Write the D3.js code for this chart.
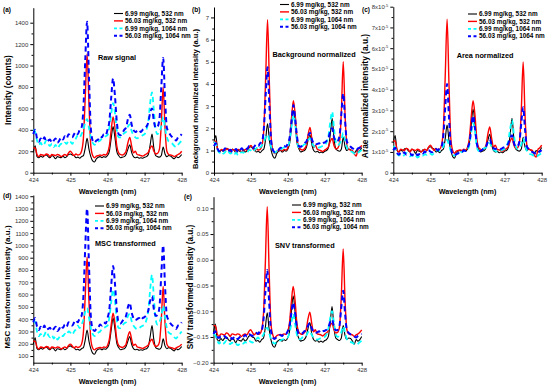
<!DOCTYPE html>
<html>
<head>
<meta charset="utf-8">
<script src="https://cdn.jsdelivr.net/npm/d3@7"></script>
<style>
  body { margin: 0; background: #fff; }
  svg { font-family: "Liberation Sans", Arial, sans-serif; }
</style>
</head>
<body>
<svg id="chart" width="550" height="387"></svg>
<script>
// wavelength grid (nm)
const wavelength = [424.00,424.05,424.10,424.15,424.20,424.25,424.30,424.35,424.40,424.45,
  424.50,424.55,424.60,424.65,424.70,424.75,424.80,424.85,424.90,424.95,
  425.00,425.05,425.10,425.15,425.20,425.25,425.30,425.35,425.40,425.45,
  425.50,425.55,425.60,425.65,425.70,425.75,425.80,425.85,425.90,425.95,
  426.00,426.05,426.10,426.15,426.20,426.25,426.30,426.35,426.40,426.45,
  426.50,426.55,426.60,426.65,426.70,426.75,426.80,426.85,426.90,426.95,
  427.00,427.05,427.10,427.15,427.20,427.25,427.30,427.35,427.40,427.45,
  427.50,427.55,427.60,427.65,427.70,427.75,427.80,427.85,427.90,427.95,428.00];

const seriesNames = ["6.99 mg/kg, 532 nm", "56.03 mg/kg, 532 nm", "6.99 mg/kg, 1064 nm", "56.03 mg/kg, 1064 nm"];

// (a) raw signal, counts
const raw699_532 = [190,250,150,140,155,145,160,165,150,140,160,150,130,150,145,140,155,140,150,170,175,165,160,140,145,135,150,160,230,320,220,150,110,100,130,145,150,140,150,145,160,200,320,430,330,200,160,140,145,150,170,220,260,190,150,140,145,135,140,135,145,150,170,260,360,230,160,150,145,160,240,175,150,160,155,140,130,150,140,150,170];
const raw5603_532 = [230,230,170,150,170,165,160,175,170,150,170,165,160,170,165,150,160,170,160,185,200,180,160,175,165,170,200,320,700,1110,650,250,160,140,155,160,165,160,170,165,185,250,400,520,420,250,185,170,165,175,200,280,330,250,185,200,170,165,160,155,165,175,190,230,250,200,175,180,220,450,800,420,200,170,165,160,150,160,170,180,200];
const raw699_1064 = [400,380,300,260,280,250,270,300,270,250,270,240,260,230,250,270,260,280,270,300,290,270,300,320,350,330,360,400,470,500,420,330,280,260,280,290,300,320,330,340,350,420,550,650,560,400,330,330,350,370,380,430,450,390,350,330,320,330,340,350,360,400,480,650,750,580,400,360,380,430,520,420,330,290,280,270,250,240,260,280,300];
const raw5603_1064 = [360,400,320,290,320,300,330,290,300,310,280,300,320,280,300,330,310,340,320,360,340,330,360,380,360,400,420,600,1050,1410,900,420,300,280,300,310,340,330,360,350,400,480,700,880,720,480,360,350,370,400,420,500,540,450,400,380,390,400,380,400,410,430,470,560,600,480,420,430,500,800,1070,700,420,380,350,330,320,300,330,340,360];

// (b) background normalized
const bg699_532 = [1.35,1.67,1.00,0.93,1.03,0.97,1.07,1.10,1.00,0.93,1.07,1.00,0.87,1.00,0.97,0.93,1.03,0.93,1.00,1.13,1.17,1.10,1.07,0.93,0.97,0.90,1.00,1.07,1.53,2.20,1.47,1.00,0.73,0.65,0.87,0.97,1.00,0.93,1.00,0.97,1.07,1.33,2.10,2.80,2.20,1.33,1.07,0.93,0.97,1.00,1.13,1.47,1.70,1.27,1.00,0.93,0.97,0.90,0.93,0.90,0.97,1.00,1.13,1.73,2.45,1.53,1.07,1.00,0.97,1.07,1.60,1.17,1.00,1.07,1.03,0.93,0.87,1.00,0.93,1.00,1.13];
const bg5603_532 = [1.42,1.42,1.05,0.93,1.05,1.02,0.99,1.08,1.05,0.93,1.05,1.02,0.99,1.05,1.02,0.93,0.99,1.05,0.99,1.14,1.23,1.11,0.99,1.08,1.02,1.05,1.23,1.98,4.32,6.90,4.01,1.54,0.99,0.86,0.96,0.99,1.02,0.99,1.05,1.02,1.14,1.54,2.47,3.25,2.59,1.54,1.14,1.05,1.02,1.08,1.23,1.73,2.04,1.54,1.14,1.23,1.05,1.02,0.99,0.96,1.02,1.08,1.17,1.42,1.54,1.23,1.08,1.11,1.36,2.78,5.00,2.59,1.23,1.05,1.02,0.99,0.85,0.75,1.05,1.11,1.23];
const bg699_1064 = [1.38,1.31,1.03,0.90,0.97,0.86,0.93,1.03,0.93,0.86,0.93,0.83,0.90,0.79,0.86,0.93,0.90,0.97,0.93,1.03,1.00,0.93,1.03,1.10,1.21,1.14,1.24,1.38,1.62,1.72,1.45,1.14,0.97,0.90,0.97,1.00,1.03,1.10,1.14,1.17,1.21,1.45,2.10,2.60,2.20,1.38,1.14,1.14,1.21,1.28,1.31,1.48,1.55,1.34,1.21,1.14,1.10,1.14,1.17,1.21,1.24,1.38,1.66,2.30,2.75,2.00,1.38,1.24,1.31,1.48,1.79,1.45,1.14,1.00,0.97,0.93,0.86,0.83,0.90,0.97,1.03];
const bg5603_1064 = [1.20,1.33,1.07,0.97,1.07,1.00,1.10,0.97,1.00,1.03,0.93,1.00,1.07,0.93,1.00,1.10,1.03,1.13,1.07,1.20,1.13,1.10,1.20,1.27,1.20,1.33,1.40,2.00,3.50,4.75,3.00,1.40,1.00,0.93,1.00,1.03,1.13,1.10,1.20,1.17,1.33,1.60,2.33,3.05,2.40,1.60,1.20,1.17,1.23,1.33,1.40,1.67,1.80,1.50,1.33,1.27,1.30,1.33,1.27,1.33,1.37,1.43,1.57,1.87,2.00,1.60,1.40,1.43,1.67,2.67,3.57,2.33,1.40,1.27,1.17,1.10,1.07,1.00,1.10,1.13,1.20];

// (c) area normalized, in units of 1e-5
const area699_532 = [1.45,1.79,1.07,1.00,1.10,1.04,1.14,1.18,1.07,1.00,1.14,1.07,0.93,1.07,1.04,1.00,1.10,1.00,1.07,1.21,1.25,1.18,1.14,1.00,1.04,0.96,1.07,1.14,1.64,2.30,1.57,1.07,0.78,0.70,0.93,1.04,1.07,1.00,1.07,1.04,1.14,1.42,2.28,3.07,2.35,1.42,1.14,1.00,1.04,1.07,1.21,1.57,1.85,1.36,1.07,1.00,1.04,0.96,1.00,0.96,1.04,1.07,1.21,1.85,2.62,1.64,1.14,1.07,1.04,1.14,1.71,1.25,1.07,1.14,1.10,1.00,0.93,1.07,1.00,1.07,1.21];
const area5603_532 = [1.53,1.53,1.13,1.00,1.13,1.10,1.07,1.17,1.13,1.00,1.13,1.10,1.07,1.13,1.10,1.00,1.07,1.13,1.07,1.23,1.33,1.20,1.07,1.17,1.10,1.13,1.33,2.14,4.67,7.40,4.33,1.66,1.07,0.93,1.04,1.07,1.10,1.07,1.13,1.10,1.23,1.66,2.67,3.47,2.80,1.66,1.23,1.13,1.10,1.17,1.33,1.87,2.20,1.66,1.23,1.33,1.13,1.10,1.07,1.04,1.10,1.17,1.26,1.53,1.66,1.33,1.17,1.20,1.47,3.00,5.34,2.80,1.33,1.13,1.10,1.07,0.85,0.75,1.13,1.20,1.33];
const area699_1064 = [1.27,1.21,0.95,0.83,0.89,0.79,0.86,0.95,0.86,0.79,0.86,0.76,0.83,0.73,0.79,0.86,0.83,0.89,0.86,0.95,0.92,0.86,0.95,1.01,1.11,1.05,1.14,1.27,1.49,1.58,1.33,1.05,0.89,0.83,0.89,0.92,0.95,1.01,1.05,1.08,1.11,1.33,1.93,2.39,2.02,1.27,1.05,1.05,1.11,1.18,1.21,1.36,1.43,1.23,1.11,1.05,1.01,1.05,1.08,1.11,1.14,1.27,1.53,2.12,2.53,1.84,1.27,1.14,1.21,1.36,1.65,1.33,1.05,0.92,0.89,0.86,0.79,0.76,0.83,0.89,0.95];
const area5603_1064 = [1.08,1.20,0.96,0.87,0.96,0.90,0.99,0.87,0.90,0.93,0.84,0.90,0.96,0.84,0.90,0.99,0.93,1.02,0.96,1.08,1.02,0.99,1.08,1.14,1.08,1.20,1.26,1.80,3.15,4.28,2.70,1.26,0.90,0.84,0.90,0.93,1.02,0.99,1.08,1.05,1.20,1.44,2.10,2.75,2.16,1.44,1.08,1.05,1.11,1.20,1.26,1.50,1.62,1.35,1.20,1.14,1.17,1.20,1.14,1.20,1.23,1.29,1.41,1.68,1.80,1.44,1.26,1.29,1.50,2.40,3.15,2.10,1.26,1.14,1.05,0.99,0.96,0.90,0.99,1.02,1.08];

// (d) MSC transformed
const msc699_532 = [196,249,160,151,164,156,169,173,160,151,169,160,142,160,156,151,164,151,160,178,183,173,169,151,156,147,160,169,231,312,222,160,124,115,142,156,160,151,160,156,169,205,312,410,321,205,169,151,156,160,178,222,258,196,160,151,156,147,151,147,156,160,178,258,348,231,169,160,156,169,240,183,160,169,164,151,142,160,151,160,178];
const msc5603_532 = [221,221,174,158,174,170,166,178,174,158,174,170,166,174,170,158,166,174,166,186,197,182,166,178,170,174,197,291,589,906,550,237,166,150,162,166,170,166,174,170,186,237,354,448,370,237,186,174,170,178,197,260,299,237,186,197,174,170,166,162,170,178,190,221,237,197,178,182,213,393,667,370,197,174,170,166,158,166,174,182,197];
const msc699_1064 = [395,375,300,262,281,253,272,300,272,253,272,243,262,234,253,272,262,281,272,300,291,272,300,319,347,328,356,395,462,491,415,328,281,262,281,291,300,319,328,338,347,415,538,640,552,395,328,328,347,366,375,424,443,385,347,328,319,328,338,347,356,395,471,640,760,575,395,356,375,424,510,415,328,291,281,272,253,243,262,281,300];
const msc5603_1064 = [374,409,339,312,339,321,348,312,321,330,304,321,339,304,321,348,330,356,339,374,356,348,374,392,374,409,427,586,983,1300,850,427,321,304,321,330,356,348,374,365,409,480,674,833,692,480,374,365,383,409,427,498,533,454,409,392,401,409,392,409,418,436,471,550,586,480,427,436,498,762,1000,674,427,392,365,348,339,321,348,356,374];

// (e) SNV transformed
const snv699_532 = [-0.143,-0.125,-0.155,-0.158,-0.153,-0.157,-0.152,-0.150,-0.155,-0.158,-0.152,-0.155,-0.161,-0.155,-0.157,-0.158,-0.153,-0.158,-0.155,-0.149,-0.147,-0.150,-0.152,-0.158,-0.157,-0.160,-0.155,-0.152,-0.131,-0.103,-0.134,-0.155,-0.167,-0.170,-0.161,-0.157,-0.155,-0.158,-0.155,-0.157,-0.152,-0.140,-0.103,-0.070,-0.100,-0.140,-0.152,-0.158,-0.157,-0.155,-0.149,-0.134,-0.122,-0.143,-0.155,-0.158,-0.157,-0.160,-0.158,-0.160,-0.157,-0.155,-0.149,-0.122,-0.091,-0.131,-0.152,-0.155,-0.157,-0.152,-0.128,-0.147,-0.155,-0.152,-0.153,-0.158,-0.164,-0.155,-0.158,-0.155,-0.149];
const snv5603_532 = [-0.128,-0.128,-0.144,-0.149,-0.144,-0.145,-0.146,-0.142,-0.144,-0.149,-0.144,-0.145,-0.146,-0.144,-0.145,-0.149,-0.146,-0.144,-0.146,-0.140,-0.136,-0.141,-0.146,-0.142,-0.145,-0.144,-0.136,-0.104,-0.005,0.103,-0.018,-0.123,-0.146,-0.152,-0.148,-0.146,-0.145,-0.146,-0.144,-0.145,-0.140,-0.123,-0.083,-0.052,-0.078,-0.123,-0.140,-0.144,-0.145,-0.142,-0.136,-0.115,-0.102,-0.123,-0.140,-0.136,-0.144,-0.145,-0.146,-0.148,-0.145,-0.142,-0.138,-0.128,-0.123,-0.136,-0.142,-0.141,-0.131,-0.070,0.021,-0.078,-0.136,-0.144,-0.145,-0.146,-0.149,-0.146,-0.144,-0.141,-0.136];
const snv699_1064 = [-0.145,-0.147,-0.157,-0.163,-0.160,-0.164,-0.161,-0.157,-0.161,-0.164,-0.161,-0.165,-0.163,-0.166,-0.164,-0.161,-0.163,-0.160,-0.161,-0.157,-0.159,-0.161,-0.157,-0.155,-0.151,-0.154,-0.150,-0.145,-0.136,-0.132,-0.142,-0.154,-0.160,-0.163,-0.160,-0.159,-0.157,-0.155,-0.154,-0.152,-0.151,-0.142,-0.125,-0.105,-0.124,-0.145,-0.154,-0.154,-0.151,-0.148,-0.147,-0.141,-0.138,-0.146,-0.151,-0.154,-0.155,-0.154,-0.152,-0.151,-0.150,-0.145,-0.134,-0.113,-0.100,-0.122,-0.145,-0.150,-0.147,-0.141,-0.129,-0.142,-0.154,-0.159,-0.160,-0.161,-0.164,-0.165,-0.163,-0.160,-0.157];
const snv5603_1064 = [-0.144,-0.139,-0.149,-0.152,-0.149,-0.151,-0.148,-0.152,-0.151,-0.150,-0.154,-0.151,-0.149,-0.154,-0.151,-0.148,-0.150,-0.146,-0.149,-0.144,-0.146,-0.148,-0.144,-0.142,-0.144,-0.139,-0.137,-0.116,-0.063,-0.020,-0.080,-0.137,-0.151,-0.154,-0.151,-0.150,-0.146,-0.148,-0.144,-0.145,-0.139,-0.130,-0.104,-0.083,-0.102,-0.130,-0.144,-0.145,-0.143,-0.139,-0.137,-0.128,-0.123,-0.133,-0.139,-0.142,-0.141,-0.139,-0.142,-0.139,-0.138,-0.136,-0.131,-0.121,-0.116,-0.130,-0.137,-0.136,-0.128,-0.092,-0.060,-0.104,-0.137,-0.142,-0.145,-0.148,-0.149,-0.151,-0.148,-0.146,-0.144];

// tick values
const xTicks = [424, 425, 426, 427, 428];
const rawTicks = [0, 200, 400, 600, 800, 1000, 1200, 1400];
const bgTicks = [0, 1, 2, 3, 4, 5, 6, 7];
const areaTicks = [0, 1, 2, 3, 4, 5, 6, 7, 8];
const mscTicks = [100, 200, 300, 400, 500, 600, 700, 800, 900, 1000, 1100, 1200, 1300, 1400];
const snvTicks = [-0.20, -0.15, -0.10, -0.05, 0.00, 0.05, 0.10];

// stile delle serie
const colori = ["#000000", "#ff0000", "#00ffff", "#0000ff"];
const larghezze = [1.1, 1.4, 1.8, 2];
const tratti = [null, null, "5,3.5", "5,3.5"];

const svg = d3.select("#chart");
svg.append("rect").attr("width", 550).attr("height", 387).attr("fill", "#fff");

function mezzi(ticks) {
  // tacche secondarie a meta' fra le principali
  const out = [];
  for (let i = 0; i < ticks.length - 1; i++) out.push((ticks[i] + ticks[i + 1]) / 2);
  return out;
}

function disegnaPannello(p) {
  const x = d3.scaleLinear().domain([424, 428]).range([p.left, p.right]);
  const y = d3.scaleLinear().domain(p.yDomain).range([p.bottom, p.top]);
  const g = svg.append("g");

  // asse x
  g.append("g").attr("transform", `translate(0,${p.bottom})`)
    .call(d3.axisBottom(x).tickValues(mezzi(xTicks)).tickSize(1.8).tickFormat(""))
    .call(s => s.select(".domain").remove());
  g.append("g").attr("transform", `translate(0,${p.bottom})`)
    .call(d3.axisBottom(x).tickValues(xTicks).tickSize(3).tickSizeOuter(0).tickPadding(2).tickFormat(d3.format("d")))
    .attr("font-size", 6).attr("font-family", null).attr("color", "#000")
    .selectAll("text").attr("fill", "#333");

  // asse y
  let minori = mezzi(p.yTicks);
  if (p.extraMinor) minori = minori.concat(p.extraMinor);
  g.append("g").attr("transform", `translate(${p.left},0)`)
    .call(d3.axisLeft(y).tickValues(minori).tickSize(1.8).tickFormat(""))
    .call(s => s.select(".domain").remove());
  const ay = g.append("g").attr("transform", `translate(${p.left},0)`)
    .call(d3.axisLeft(y).tickValues(p.yTicks).tickSize(3).tickSizeOuter(0).tickPadding(2).tickFormat(p.fmt))
    .attr("font-size", 6).attr("font-family", null).attr("color", "#000");
  ay.selectAll("text").attr("fill", "#333");
  if (p.sci) {
    ay.selectAll(".tick text").each(function (d) {
      const t = d3.select(this);
      t.text(null);
      if (d === 0) { t.text("0"); return; }
      t.append("tspan").text(d + "x10");
      t.append("tspan").attr("dy", -2.3).attr("font-size", 4).text("-5");
    });
  }

  // linee
  const linea = d3.line().x((d, i) => x(wavelength[i])).y(d => y(d)).curve(d3.curveMonotoneX);
  p.series.forEach((s, k) => {
    g.append("path").datum(s).attr("d", linea)
      .attr("fill", "none").attr("stroke", colori[k]).attr("stroke-width", larghezze[k])
      .attr("stroke-dasharray", tratti[k]).attr("stroke-linejoin", "round");
  });

  // legenda
  seriesNames.forEach((nome, k) => {
    const yy = p.legY + k * 7.4;
    g.append("line").attr("x1", p.legX).attr("x2", p.legX + 9).attr("y1", yy).attr("y2", yy)
      .attr("stroke", colori[k]).attr("stroke-width", larghezze[k]).attr("stroke-dasharray", tratti[k] ? "3,2.5" : null);
    g.append("text").attr("x", p.legX + 11).attr("y", yy).attr("dy", "0.35em")
      .attr("font-size", 6.4).attr("font-weight", "bold").text(nome);
  });

  // titolo interno
  g.append("text").attr("x", p.titleX).attr("y", p.titleY).attr("dy", "0.35em")
    .attr("font-size", 7.3).attr("font-weight", "bold").text(p.title);

  // lettera del pannello
  g.append("text").attr("x", p.letX).attr("y", p.letY).attr("dy", "0.35em")
    .attr("font-size", 6.5).attr("font-weight", "bold").text("(" + p.key + ")");

  // etichette assi
  g.append("text").attr("x", (p.left + p.right) / 2).attr("y", p.bottom + 19).attr("dy", "0.35em")
    .attr("text-anchor", "middle").attr("font-size", 7.2).attr("font-weight", "bold").text("Wavelength (nm)");
  g.append("text").attr("transform", `translate(${p.ylabX},${p.ylabY}) rotate(-90)`).attr("dy", "0.35em")
    .attr("text-anchor", "middle").attr("font-size", p.ylabSize).attr("font-weight", "bold").text(p.ylab);
}

const pannelli = [
  { key: "a", left: 33.3, right: 181.7, top: 7.7, bottom: 172.7, yDomain: [0, 1540], yTicks: rawTicks,
    fmt: d3.format("d"), series: [raw699_532, raw5603_532, raw699_1064, raw5603_1064],
    legX: 114, legY: 13.5, title: "Raw signal", titleX: 98, titleY: 57, letX: 3, letY: 10,
    ylab: "Intensity (counts)", ylabX: 8.5, ylabY: 90, ylabSize: 8.4 },
  { key: "b", left: 214, right: 361.7, top: 7, bottom: 172.7, yDomain: [0, 7.47], yTicks: bgTicks,
    fmt: d3.format("d"), series: [bg699_532, bg5603_532, bg699_1064, bg5603_1064],
    legX: 280, legY: 4.5, title: "Background normalized", titleX: 272.5, titleY: 54.3, letX: 192, letY: 10,
    ylab: "Background normalized intensity (a.u.)", ylabX: 195.5, ylabY: 99, ylabSize: 7.6 },
  { key: "c", left: 393.3, right: 541.7, top: 6.7, bottom: 172.7, yDomain: [0, 8], yTicks: areaTicks,
    fmt: d3.format("d"), sci: true, series: [area699_532, area5603_532, area699_1064, area5603_1064],
    legX: 468, legY: 14, title: "Area normalized", titleX: 456.7, titleY: 55, letX: 362, letY: 10,
    ylab: "Arae normalized intensity (a.u.)", ylabX: 365.5, ylabY: 96, ylabSize: 8.4 },
  { key: "d", left: 33.3, right: 181.7, top: 195, bottom: 362.7, yDomain: [46, 1410], yTicks: mscTicks,
    fmt: d3.format("d"), series: [msc699_532, msc5603_532, msc699_1064, msc5603_1064],
    legX: 95, legY: 206, title: "MSC transformed", titleX: 95, titleY: 243.3, letX: 3, letY: 196,
    ylab: "MSC transformed Intensity (a.u.)", ylabX: 7, ylabY: 287, ylabSize: 8 },
  { key: "e", left: 213.5, right: 361.7, top: 196.7, bottom: 362.7, yDomain: [-0.2, 0.1226], yTicks: snvTicks,
    fmt: d3.format(".2f"), series: [snv699_532, snv5603_532, snv699_1064, snv5603_1064],
    legX: 292, legY: 205, title: "SNV transformed", titleX: 275, titleY: 245, letX: 184, letY: 197,
    ylab: "SNV transformed intensity (a.u.)", ylabX: 190.5, ylabY: 287, ylabSize: 8.2 }
];

pannelli.forEach(disegnaPannello);
</script>
</body>
</html>
